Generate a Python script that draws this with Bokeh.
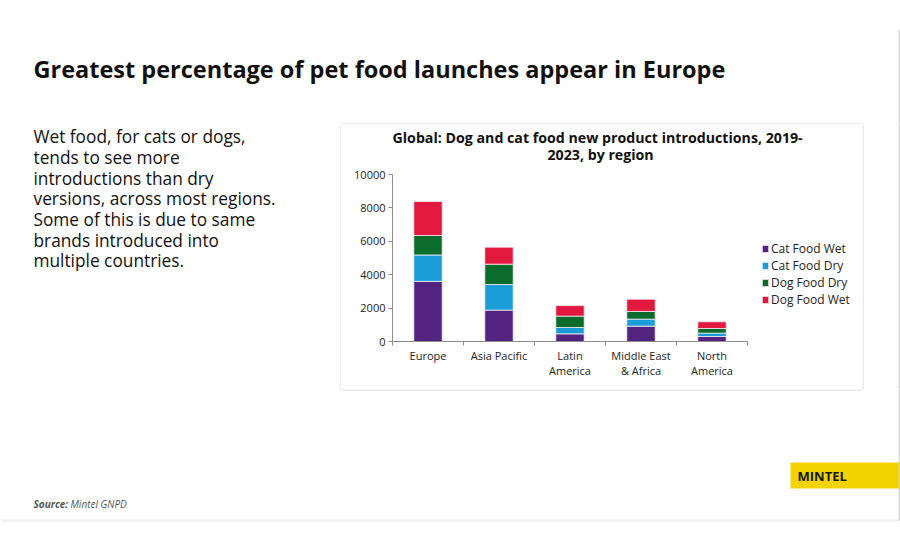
from bokeh.plotting import figure
from bokeh.models import (Range1d, FixedTicker, LinearAxis, Legend,
                          LegendItem, Title, ColumnDataSource)
from bokeh.layouts import column, row
from bokeh.core.properties import value
from bokeh.embed import file_html
from bokeh.resources import INLINE

# ---------------- data ----------------
regions = ["Europe", "Asia Pacific", "Latin America", "Middle East & Africa", "North America"]
region_labels = ["Europe", "Asia Pacific", "Latin\nAmerica", "Middle East\n& Africa", "North\nAmerica"]
series = ["Cat Food Wet", "Cat Food Dry", "Dog Food Dry", "Dog Food Wet"]
cat_food_wet = [3600, 1880, 460, 920, 300]
cat_food_dry = [1580, 1530, 380, 420, 200]
dog_food_dry = [1170, 1220, 680, 460, 280]
dog_food_wet = [2030, 1020, 630, 735, 400]
colors = ["#52247f", "#1a9dd7", "#0a6b2c", "#e2183f"]
y_ticks = [0, 2000, 4000, 6000, 8000, 10000]
y_max = 10000

page_title = "Greatest percentage of pet food launches appear in Europe"
chart_title_1 = "Global: Dog and cat food new product introductions, 2019-"
chart_title_2 = "2023, by region"
body_lines = ["Wet food, for cats or dogs,", "tends to see more", "introductions than dry",
              "versions, across most regions.", "Some of this is due to same",
              "brands introduced into", "multiple countries."]
source_label = "Source:"
source_name = "Mintel GNPD"
brand = "MINTEL"

FONT = "Open Sans"
W = 900
BOX = "#d9d9d9"
EDGE = "#d4d4d4"


def blank(w, h):
    f = figure(width=w, height=h, x_range=Range1d(0, w), y_range=Range1d(h, 0),
               output_backend="svg", toolbar_location=None, min_border=0,
               x_axis_location=None, y_axis_location=None, outline_line_color=None,
               frame_align=False)
    f.xgrid.visible = False
    f.ygrid.visible = False
    return f


# ---------------- top: page title ----------------
top = blank(W, 124)
top.text(x=[33], y=[68.5], text=[page_title], text_font=value(FONT), text_font_style="bold",
         text_font_size="23.5px", text_color="#111111", text_baseline="middle")
top.segment(x0=[341], x1=[862], y0=[123.5], y1=[123.5], line_color=BOX, line_width=1)
top.segment(x0=[899], x1=[899], y0=[29], y1=[124], line_color=EDGE, line_width=1.5)

# ---------------- left: body text ----------------
left = blank(341, 265)
left.text(x=[33] * len(body_lines), y=[12.3 + 20.66 * i for i in range(len(body_lines))],
          text=body_lines, text_font=value(FONT), text_font_size="17.3px", text_color="#111111",
          text_baseline="middle")
left.segment(x0=[340.5], x1=[340.5], y0=[0], y1=[265], line_color=BOX, line_width=1)

# ---------------- chart ----------------
n = len(regions)
centers = [i + 0.5 for i in range(n)]
bounds = list(range(n + 1))
src = ColumnDataSource(dict(x=centers, **{series[0]: cat_food_wet, series[1]: cat_food_dry,
                                          series[2]: dog_food_dry, series[3]: dog_food_wet}))
# the frame runs on past the plotted area (to the box's right edge and up under the title);
# the axes themselves are bounded to the plotted area
x_end = n * 470 / 355
y_end = y_max * 178 / 167
chart = figure(width=521, height=265, x_range=Range1d(0, x_end), y_range=Range1d(0, y_end),
               output_backend="svg", toolbar_location=None, x_axis_location=None,
               y_axis_location=None, min_border_left=51, min_border_right=0,
               min_border_top=39, min_border_bottom=48, outline_line_color=None,
               frame_align=False, title=None)
chart.xgrid.visible = False
chart.ygrid.visible = False
renderers = chart.vbar_stack(series, x="x", width=0.4, color=colors, source=src,
                             line_color="#f4eef2", line_width=0.8)

axis_col = "#8c8c8c"
yaxis = LinearAxis(ticker=FixedTicker(ticks=y_ticks), bounds=(0, y_max),
                   axis_line_color=axis_col,
                   major_tick_line_color=axis_col, major_tick_in=0, major_tick_out=4,
                   minor_tick_line_color=None, major_label_text_font=FONT,
                   major_label_text_font_size="11px", major_label_text_color="#222222",
                   major_label_standoff=3)
chart.add_layout(yaxis, "left")

xaxis = LinearAxis(ticker=FixedTicker(ticks=centers, minor_ticks=bounds), bounds=(0, n),
                   major_label_overrides={c: lab for c, lab in zip(centers, region_labels)},
                   axis_line_color=axis_col, major_tick_line_color=None, major_tick_out=0,
                   major_tick_in=0, minor_tick_line_color=axis_col, minor_tick_in=0,
                   minor_tick_out=4, major_label_standoff=2,
                   major_label_text_font=FONT, major_label_text_font_size="11px",
                   major_label_text_line_height=1.0, major_label_text_color="#222222")
chart.add_layout(xaxis, "below")

legend = Legend(items=[LegendItem(label=s, renderers=[r]) for s, r in zip(series, renderers)],
                location=(369, 33), padding=0, margin=0, spacing=-3, glyph_width=8,
                glyph_height=9, label_standoff=2, label_height=13,
                label_text_font=FONT, label_text_font_size="12px",
                label_text_color="#222222", border_line_color=None, background_fill_alpha=0)
chart.add_layout(legend)

for txt, off, stand in [(chart_title_2, 155, 0), (chart_title_1, 0, -9)]:
    chart.add_layout(Title(text=txt, align="left", offset=off, standoff=stand,
                           text_font=FONT, text_font_style="bold",
                           text_font_size="14.2px", text_color="#111111"), "above")

right = blank(W - 341 - 521, 265)
right.segment(x0=[0.5], x1=[0.5], y0=[0], y1=[265], line_color=BOX, line_width=1)
right.segment(x0=[37], x1=[37], y0=[0], y1=[265], line_color=EDGE, line_width=1.5)

# ---------------- bottom: source and logo ----------------
bottom = blank(W, 161)
bottom.segment(x0=[341], x1=[862], y0=[0.5], y1=[0.5], line_color=BOX, line_width=1)
bottom.quad(left=[790], right=[W], top=[73], bottom=[99], fill_color="#f3d300", line_color=None)
bottom.text(x=[797], y=[86], text=[brand], text_font=value(FONT), text_font_style="bold",
            text_font_size="13px", text_color="#151515", text_baseline="middle")
bottom.text(x=[33], y=[114.5], text=[source_label], text_font=value(FONT),
            text_font_style="bold italic", text_font_size="10px", text_color="#555555",
            text_baseline="middle")
bottom.text(x=[70], y=[114.5], text=[source_name], text_font=value(FONT),
            text_font_style="italic", text_font_size="10px", text_color="#555555",
            text_baseline="middle")
bottom.segment(x0=[0], x1=[W], y0=[131], y1=[131], line_color="#f0f0f0", line_width=2)
bottom.segment(x0=[899], x1=[899], y0=[0], y1=[131], line_color=EDGE, line_width=1.5)

page = column(top, row(left, chart, right), bottom)
open("out.html", "w").write(file_html(page, INLINE))
